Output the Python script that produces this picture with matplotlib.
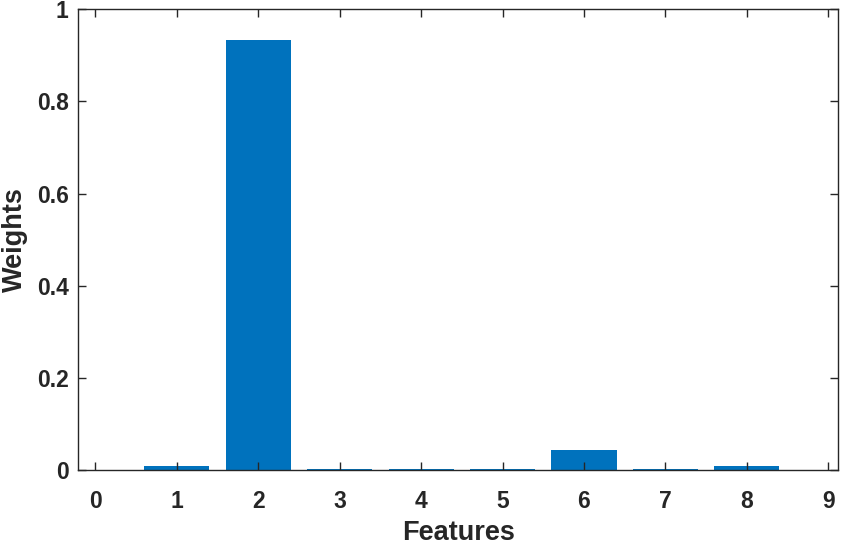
import matplotlib
matplotlib.use("Agg")
import matplotlib.pyplot as plt

features = [1, 2, 3, 4, 5, 6, 7, 8]
weights = [0.010, 0.933, 0.002, 0.002, 0.002, 0.0445, 0.0035, 0.010]
xticks = list(range(10))
yticks = [0, 0.2, 0.4, 0.6, 0.8, 1]
ytick_labels = ["0", "0.2", "0.4", "0.6", "0.8", "1"]

plt.rcParams['font.family'] = ['Liberation Sans', 'DejaVu Sans']
tc = '#262626'

fig = plt.figure(figsize=(8.46, 5.45), dpi=100)
ax = fig.add_axes([0.0926, 0.137, 0.898, 0.846])
ax.bar(features, weights, width=0.8, color='#0072BD')
ax.set_xlim(-0.21, 9.12)
ax.set_ylim(0, 1)
ax.set_xticks(xticks)
ax.set_yticks(yticks)
ax.set_yticklabels(ytick_labels)
for s in ax.spines.values():
    s.set_color(tc)
    s.set_linewidth(1.0)
ax.tick_params(direction='in', length=6, width=1.0, color=tc, top=True, right=True,
               labelsize=16.5, labelcolor=tc)
ax.tick_params(axis='x', pad=14)
ax.tick_params(axis='y', pad=7)
for lab in ax.get_xticklabels() + ax.get_yticklabels():
    lab.set_fontweight('bold')
ax.set_xlabel('Features', fontsize=19.5, fontweight='bold', color=tc, labelpad=5)
ax.set_ylabel('Weights', fontsize=19.5, fontweight='bold', color=tc, labelpad=6)
fig.savefig('out.png', dpi=100)
